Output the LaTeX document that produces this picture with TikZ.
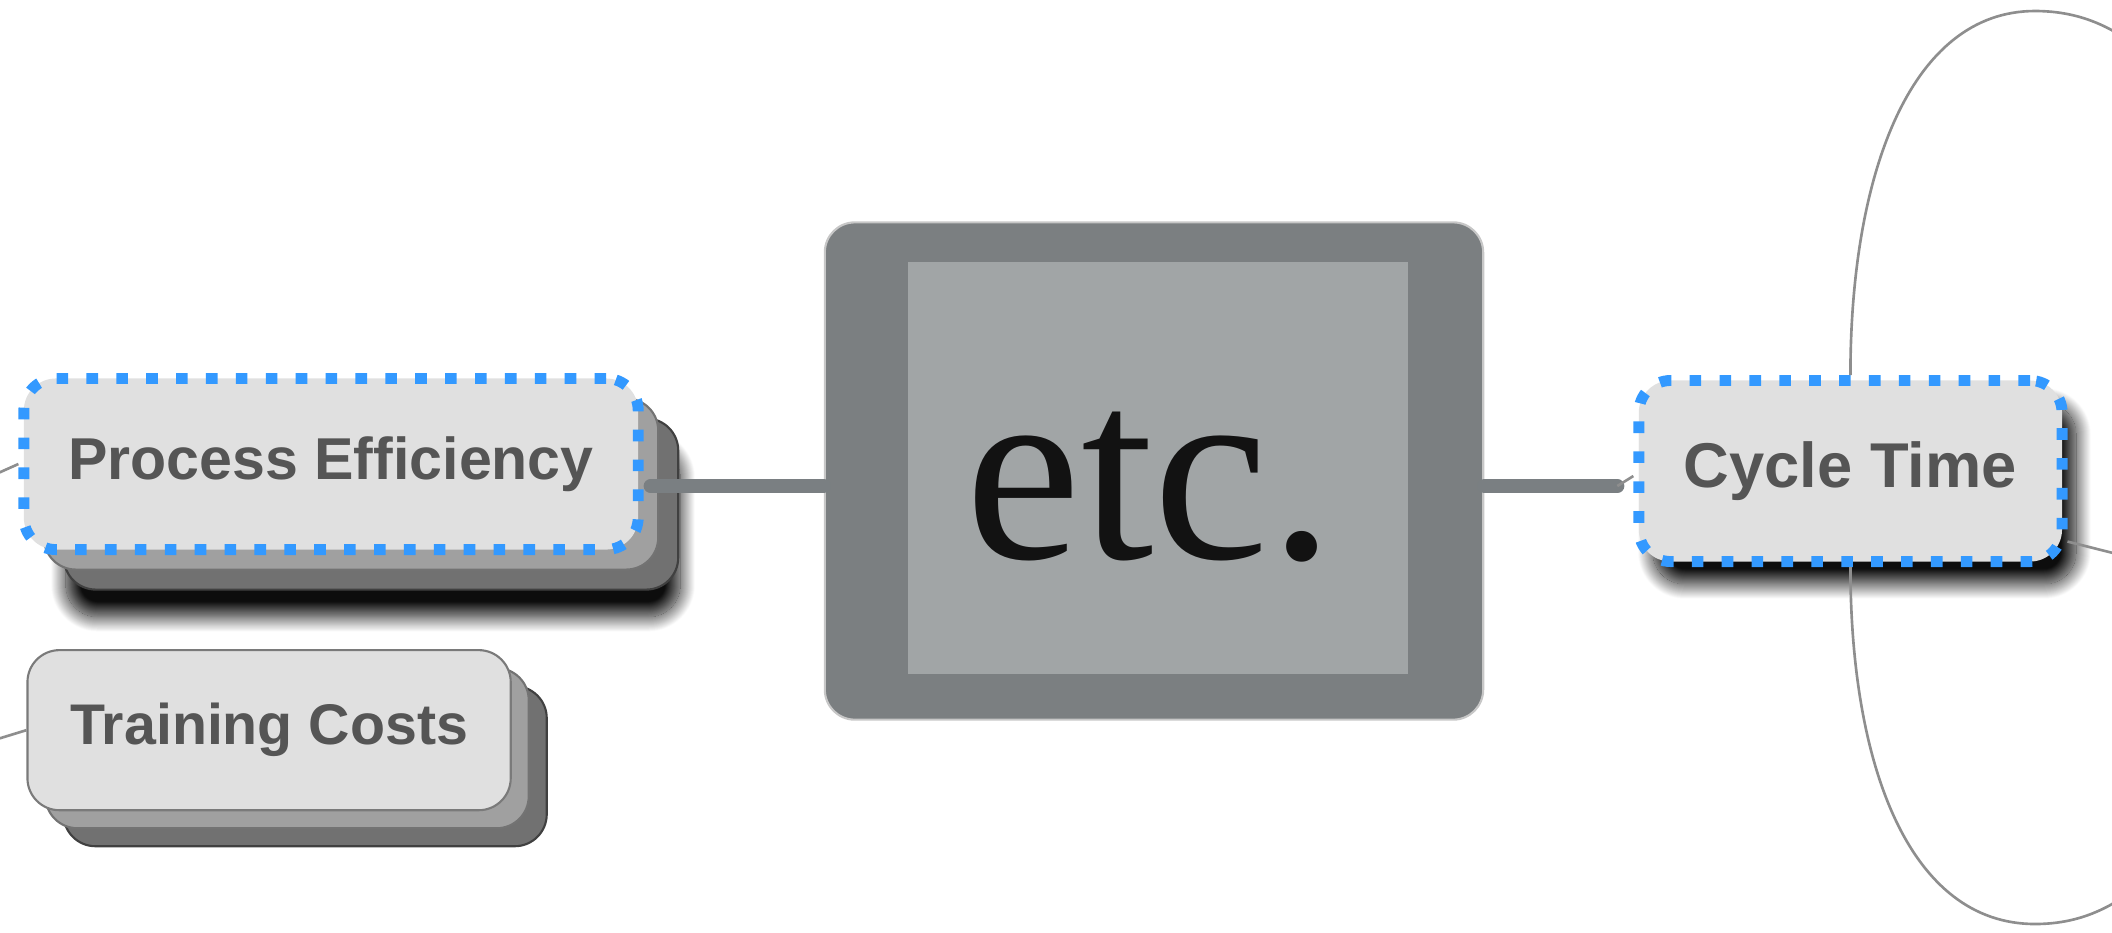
\documentclass[tikz,border=0pt]{standalone}
\usepackage{fontspec}
\newfontfamily\topicfont{Liberation Sans}
\newfontfamily\etcfont{Liberation Serif}
\usepackage{tikz}
\usetikzlibrary{positioning,shadows,shadows.blur}
\definecolor{hubgray}{HTML}{7B7F81}
\definecolor{facegray}{HTML}{A1A5A6}
\definecolor{linkgray}{HTML}{7A7F82}
\definecolor{twiggray}{HTML}{8E8E8E}
\definecolor{topicfill}{HTML}{E0E0E0}
\definecolor{selblue}{HTML}{3399FF}
\definecolor{topictext}{HTML}{555555}
\definecolor{layerlight}{HTML}{A0A0A0}
\definecolor{layerdark}{HTML}{717171}
\tikzset{
map/.style={x=0.01cm,y=-0.01cm,line join=round},
hub/.style={rectangle,rounded corners=0.3cm,draw=black!22,line width=0.6pt,
fill=hubgray,minimum width=6.58cm,minimum height=4.97cm},
face/.style={rectangle,fill=facegray,inner sep=0pt,minimum width=4.99cm,minimum height=4.11cm},
etctext/.style={font=\etcfont\fontsize{74}{80}\selectfont,text=black!93,inner sep=0pt},
topic/.style={rectangle,rounded corners=0.32cm,fill=topicfill,text=topictext,
font=\topicfont\bfseries\fontsize{16.8}{20}\selectfont},
selected/.style={draw=selblue,line width=3.1pt,dash pattern=on 3.3pt off 5.2pt},
plain/.style={draw=black!52,line width=0.6pt},
stacked/.style={
general shadow={shadow xshift={2*#1},shadow yshift={-2*#1},fill=layerdark,draw=black!75,solid,line width=0.6pt},
general shadow={shadow xshift=#1,shadow yshift={-#1},fill=layerlight,draw=black!55,solid,line width=0.6pt}},
stacked/.default={0.2cm},
lifted/.style={blur shadow={shadow xshift=#1,shadow yshift={-1.6*#1},shadow blur radius=0.15cm,
shadow blur steps=30,shadow opacity=95}},
lifted/.default={0.14cm},
branch/.style={draw=linkgray,line width=4pt,line cap=round},
twig/.style={draw=twiggray,line width=0.75pt},
}

\begin{document}
\begin{tikzpicture}[map]
\useasboundingbox (0,0) rectangle (2112,932);
\clip (0,0) rectangle (2112,932);

\node[hub] (ctr) at (1154,471) {};
\node[face] (face) at (1158,468) {};
\node[etctext,anchor=base] (etc) at (1150,558) {etc.};

\node[topic,selected,lifted=0.42cm,stacked=0.2cm] (pe) [left=1.8cm of ctr,yshift=0.07cm,
minimum width=6.14cm,minimum height=1.71cm] {Process Efficiency};
\node[topic,plain,stacked=0.18cm] (tc) [below=0.94cm of pe.south west,anchor=north west,
xshift=0.08cm,minimum width=4.83cm,minimum height=1.6cm,
font=\topicfont\bfseries\fontsize{16.3}{20}\selectfont] {Training Costs};
\node[topic,selected,lifted] (ct) [right=1.49cm of ctr,minimum width=4.23cm,minimum height=1.81cm,
font=\topicfont\bfseries\fontsize{18}{21}\selectfont] {Cycle Time};

\coordinate (lhook) at ([yshift=-0.15cm]ctr.west);
\coordinate (rhook) at ([yshift=-0.15cm]ctr.east);
\coordinate (ctend) at ([xshift=-0.16cm,yshift=-0.15cm]ct.west);
\draw[branch,shorten >=0.07cm] (lhook) -- (lhook -| pe.east);
\draw[branch] (rhook) -- (ctend);
\draw[twig] (ctend) -- ([yshift=-0.05cm]ct.west);

\coordinate (uptop) at (2035,11);
\coordinate (upfar) at (2250,140);
\coordinate (downbot) at (2035,924);
\coordinate (downfar) at (2250,792);
\coordinate (sidefar) at (2240,585);
\coordinate (pefar) at (-120,526);
\coordinate (tcfar) at (-120,775);
\draw[twig] (ct.north) .. controls +(0,-200) and +(-125,0) .. (uptop)
.. controls +(100,0) and +(-80,-50) .. (upfar);
\draw[twig] (ct.south) .. controls +(0,200) and +(-125,0) .. (downbot)
.. controls +(100,0) and +(-80,50) .. (downfar);
\draw[twig] (ct.-18) -- (sidefar);
\draw[twig] (pe.west) -- (pefar);
\draw[twig] (tc.west) -- (tcfar);
\end{tikzpicture}
\end{document}
